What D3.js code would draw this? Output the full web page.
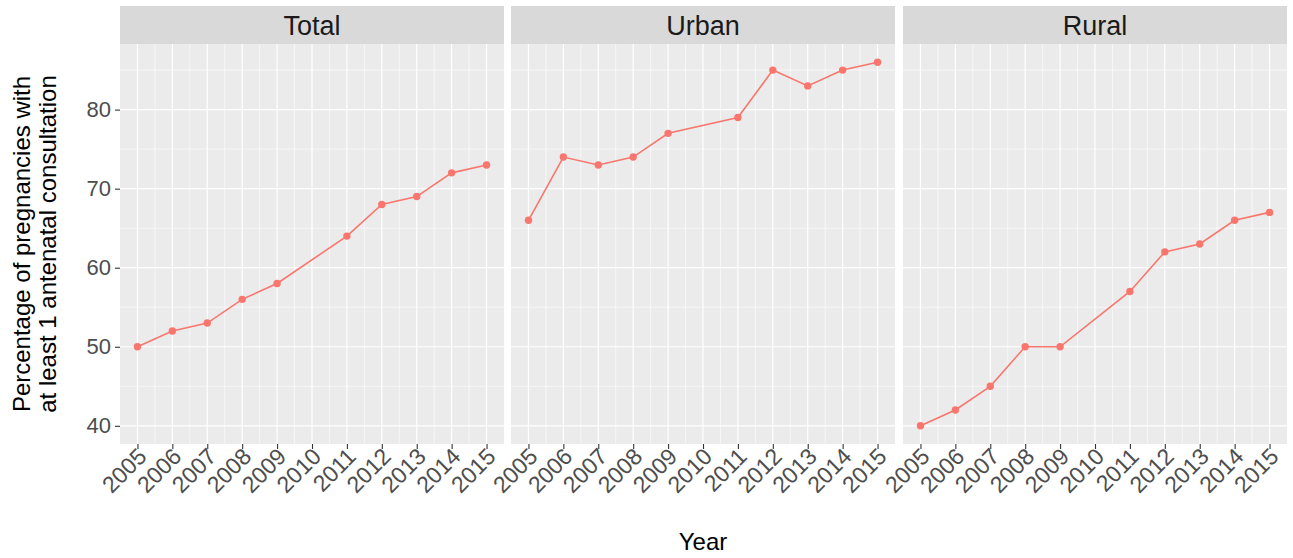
<!DOCTYPE html>
<html><head><meta charset="utf-8">
<script src="https://cdn.jsdelivr.net/npm/d3@7"></script>
<style>body{margin:0;background:#fff}svg{display:block;font-family:"Liberation Sans",Arial,sans-serif}</style>
</head><body><svg id="c" width="1293" height="558"></svg>
<script>
const panels = ["Total", "Urban", "Rural"];
const years = [2005, 2006, 2007, 2008, 2009, 2011, 2012, 2013, 2014, 2015];
const totalValues = [50, 52, 53, 56, 58, 64, 68, 69, 72, 73];
const urbanValues = [66, 74, 73, 74, 77, 79, 85, 83, 85, 86];
const ruralValues = [40, 42, 45, 50, 50, 57, 62, 63, 66, 67];
const xTicks = [2005, 2006, 2007, 2008, 2009, 2010, 2011, 2012, 2013, 2014, 2015];
const yTicks = [40, 50, 60, 70, 80];
const yMinor = [45, 55, 65, 75, 85];
const seriesValues = [totalValues, urbanValues, ruralValues];

const svg = d3.select("#c");
const panelX = [120, 511, 903];
const panelW = 384;
const pTop = 44, pBottom = 444, stripTop = 6;
const col = "#F8766D";

const y = d3.scaleLinear().domain([37.7, 88.3]).range([pBottom, pTop]);

panels.forEach((name, i) => {
  const x0 = panelX[i];
  const x = d3.scaleLinear().domain([2004.5, 2015.5]).range([x0, x0 + panelW]);
  const g = svg.append("g");
  g.append("rect").attr("x", x0).attr("y", pTop).attr("width", panelW).attr("height", pBottom - pTop).attr("fill", "#EBEBEB");
  const xMinor = d3.range(2005.5, 2015, 1);
  g.selectAll(".xm").data(xMinor).enter().append("line")
    .attr("x1", d => x(d)).attr("x2", d => x(d)).attr("y1", pTop).attr("y2", pBottom)
    .attr("stroke", "#fff").attr("stroke-width", 0.6);
  g.selectAll(".ym").data(yMinor).enter().append("line")
    .attr("y1", d => y(d)).attr("y2", d => y(d)).attr("x1", x0).attr("x2", x0 + panelW)
    .attr("stroke", "#fff").attr("stroke-width", 0.6);
  g.selectAll(".xM").data(xTicks).enter().append("line")
    .attr("x1", d => x(d)).attr("x2", d => x(d)).attr("y1", pTop).attr("y2", pBottom)
    .attr("stroke", "#fff").attr("stroke-width", 1.2);
  g.selectAll(".yM").data(yTicks).enter().append("line")
    .attr("y1", d => y(d)).attr("y2", d => y(d)).attr("x1", x0).attr("x2", x0 + panelW)
    .attr("stroke", "#fff").attr("stroke-width", 1.2);
  g.append("rect").attr("x", x0).attr("y", stripTop).attr("width", panelW).attr("height", pTop - stripTop).attr("fill", "#D9D9D9");
  g.append("text").attr("x", x0 + panelW / 2).attr("y", (stripTop + pTop) / 2 + 10)
    .attr("text-anchor", "middle").attr("font-size", 27).attr("fill", "#1A1A1A").text(name);
  const xa = g.append("g").attr("transform", `translate(0,${pBottom})`)
    .call(d3.axisBottom(x).tickValues(xTicks).tickFormat(d3.format("d")).tickSize(5).tickPadding(3));
  xa.select(".domain").remove();
  xa.selectAll(".tick line").attr("stroke", "#333").attr("stroke-width", 1.1);
  xa.selectAll(".tick text").attr("font-size", 23).attr("fill", "#4D4D4D")
    .attr("text-anchor", "end").attr("dy", 0).attr("y", 0)
    .attr("transform", "translate(10,14) rotate(-45)");
  if (i === 0) {
    const ya = g.append("g").attr("transform", `translate(${x0},0)`)
      .call(d3.axisLeft(y).tickValues(yTicks).tickSize(5).tickPadding(4));
    ya.select(".domain").remove();
    ya.selectAll(".tick line").attr("stroke", "#333").attr("stroke-width", 1.1);
    ya.selectAll(".tick text").attr("font-size", 22).attr("fill", "#4D4D4D");
  }
  const data = years.map((yr, k) => ({yr, v: seriesValues[i][k]}));
  g.append("path").datum(data)
    .attr("d", d3.line().x(d => x(d.yr)).y(d => y(d.v)))
    .attr("fill", "none").attr("stroke", col).attr("stroke-width", 1.6);
  g.selectAll(".pt").data(data).enter().append("circle")
    .attr("cx", d => x(d.yr)).attr("cy", d => y(d.v)).attr("r", 3.7).attr("fill", col);
});

svg.append("text").attr("x", 703).attr("y", 550).attr("text-anchor", "middle")
  .attr("font-size", 24).attr("fill", "#000").text("Year");
const yt = svg.append("text").attr("transform", `translate(0,${(pTop + pBottom) / 2}) rotate(-90)`)
  .attr("text-anchor", "middle").attr("font-size", 24).attr("fill", "#000");
yt.append("tspan").attr("x", 0).attr("y", 30).text("Percentage of pregnancies with");
yt.append("tspan").attr("x", 0).attr("y", 56).text("at least 1 antenatal consultation");
</script></body></html>
